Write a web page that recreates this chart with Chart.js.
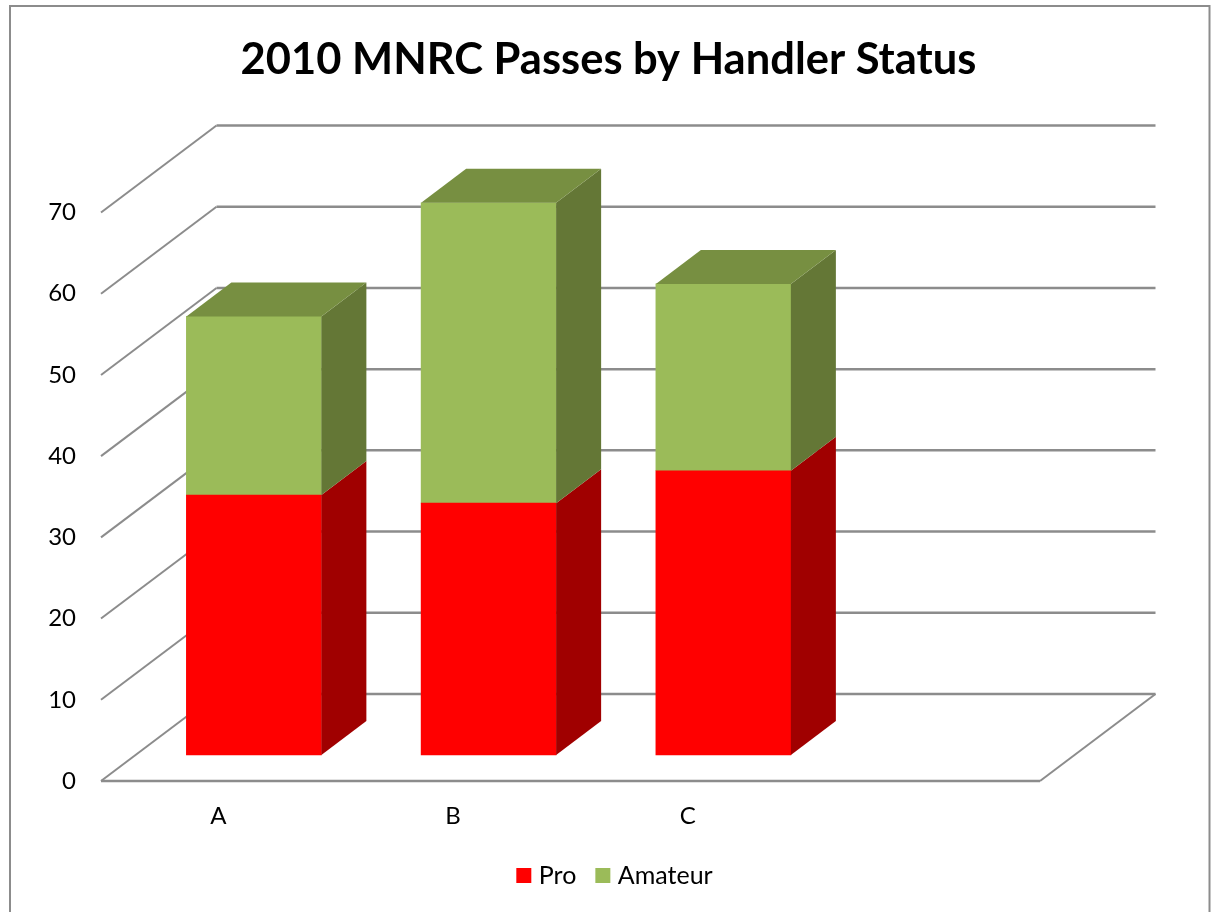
<!DOCTYPE html>
<html>
<head>
<meta charset="utf-8">
<title>2010 MNRC Passes by Handler Status</title>
<script src="https://cdn.jsdelivr.net/npm/chart.js@4"></script>
<style>
  html, body { margin: 0; padding: 0; background: #fff; }
  canvas { display: block; }
</style>
</head>
<body>
<canvas id="chart" width="1217" height="912"></canvas>
<script>
// Chart data
const categories = ["A", "B", "C", ""];
const proValues = [32, 31, 35];
const amateurValues = [22, 37, 23];

const AXIS_MAX = 70;
const AXIS_STEP = 10;

// Fake 3D: wall depth and bar depth in pixels, bars sit partway into the floor
const WALL_DX = 115.5;
const WALL_DY = 87;
const BAR_DX = 45;
const BAR_DY = 34;
const BAR_SHIFT_X = 35.5;
const BAR_SHIFT_Y = 26;
const LINE_COLOR = "#8c8c8c";
const FONT = "Lato, 'Open Sans', sans-serif";

const SHADES = {
  Pro:     { front: "#FF0000", side: "#A00000", top: "#BE0000" },
  Amateur: { front: "#9BBB59", side: "#647736", top: "#778F41" },
};

function line(ctx, x1, y1, x2, y2) {
  ctx.beginPath();
  ctx.moveTo(x1, y1);
  ctx.lineTo(x2, y2);
  ctx.stroke();
}

function face(ctx, pts, color) {
  ctx.fillStyle = color;
  ctx.beginPath();
  pts.forEach((p, i) => (i ? ctx.lineTo(p[0], p[1]) : ctx.moveTo(p[0], p[1])));
  ctx.closePath();
  ctx.fill();
}

const walls3d = {
  id: "walls3d",
  afterLayout(chart) {
    chart.legend.left += 17; // legend sits a little right of centre
  },
  beforeDraw(chart) {
    const ctx = chart.ctx;
    ctx.save();
    ctx.strokeStyle = LINE_COLOR;
    ctx.lineWidth = 2;
    ctx.strokeRect(10, 6, 1199.5, 950); // bottom edge runs off the picture
    ctx.restore();
  },
  beforeDatasetsDraw(chart) {
    const ctx = chart.ctx;
    const { left, right } = chart.chartArea;
    const y = chart.scales.y;
    ctx.save();
    ctx.strokeStyle = LINE_COLOR;
    y.ticks.forEach(t => {
      const py = y.getPixelForValue(t.value);
      ctx.lineWidth = 2;
      line(ctx, left, py, left + WALL_DX, py - WALL_DY);
      ctx.lineWidth = 2.5;
      line(ctx, left + WALL_DX, py - WALL_DY, right + WALL_DX, py - WALL_DY);
    });
    const floor = y.getPixelForValue(0);
    ctx.lineWidth = 2.5;
    line(ctx, left, floor, right, floor);
    ctx.lineWidth = 2;
    line(ctx, right, floor, right + WALL_DX, floor - WALL_DY);
    ctx.restore();
  },
  afterDatasetsDraw(chart) {
    const ctx = chart.ctx;
    const last = chart.data.datasets.length - 1;
    ctx.save();
    chart.data.datasets.forEach((ds, d) => {
      const shade = SHADES[ds.label];
      chart.getDatasetMeta(d).data.forEach(bar => {
        const l = bar.x - bar.width / 2;
        const r = bar.x + bar.width / 2;
        const top = bar.y;
        const base = bar.base;
        face(ctx, [[r, top], [r + BAR_DX, top - BAR_DY], [r + BAR_DX, base - BAR_DY], [r, base]], shade.side);
        if (d === last) {
          face(ctx, [[l, top], [l + BAR_DX, top - BAR_DY], [r + BAR_DX, top - BAR_DY], [r, top]], shade.top);
        }
      });
    });
    ctx.restore();
  },
};

const toPoints = values => values.map((v, i) => ({ x: i, y: v }));

new Chart(document.getElementById("chart"), {
  type: "bar",
  plugins: [walls3d],
  data: {
    labels: categories,
    datasets: [
      {
        label: "Pro",
        data: toPoints(proValues),
        backgroundColor: SHADES.Pro.front,
        borderWidth: 0,
        barThickness: 135,
        clip: false,
        xAxisID: "xBar",
        yAxisID: "yBar",
      },
      {
        label: "Amateur",
        data: toPoints(amateurValues),
        backgroundColor: SHADES.Amateur.front,
        borderWidth: 0,
        barThickness: 135,
        clip: false,
        xAxisID: "xBar",
        yAxisID: "yBar",
      },
    ],
  },
  options: {
    responsive: false,
    animation: false,
    layout: { padding: { left: 0, right: 0, top: 0, bottom: 14 } },
    plugins: {
      tooltip: { enabled: false },
      title: {
        display: true,
        text: "2010 MNRC Passes by Handler Status",
        color: "#000",
        font: { family: FONT, size: 43.5, weight: "bold", lineHeight: 1.2 },
        padding: { top: 34, bottom: 126.3 },
      },
      legend: {
        position: "bottom",
        labels: {
          color: "#000",
          font: { family: FONT, size: 25 },
          usePointStyle: true,
          pointStyle: "rect",
          boxWidth: 5,
          boxHeight: 15,
          padding: 24,
        },
      },
    },
    scales: {
      x: {
        type: "category",
        offset: true,
        grid: { display: false },
        border: { display: false },
        ticks: { color: "#000", font: { family: FONT, size: 24 }, padding: 13, maxRotation: 0, autoSkip: false },
        afterFit: s => { s.height = 58; },
      },
      y: {
        type: "linear",
        min: 0,
        max: AXIS_MAX,
        grid: { display: false },
        border: { display: false },
        ticks: { color: "#000", font: { family: FONT, size: 24 }, padding: 17, stepSize: AXIS_STEP },
        afterFit: s => { s.width = 101; },
      },
      // Bars live on their own hidden scales, set back from the front of the floor
      xBar: {
        type: "linear",
        display: false,
        position: "bottom",
        stacked: true,
        offset: false,
        min: -0.5 - BAR_SHIFT_X / 234.75,
        max: categories.length - 0.5 - BAR_SHIFT_X / 234.75,
      },
      yBar: {
        type: "linear",
        position: "right",
        stacked: true,
        min: -BAR_SHIFT_Y / 8.11,
        max: AXIS_MAX - BAR_SHIFT_Y / 8.11,
        grid: { display: false },
        border: { display: false },
        ticks: { display: false },
        afterFit: s => { s.width = 177; },
      },
    },
  },
});
</script>
</body>
</html>
